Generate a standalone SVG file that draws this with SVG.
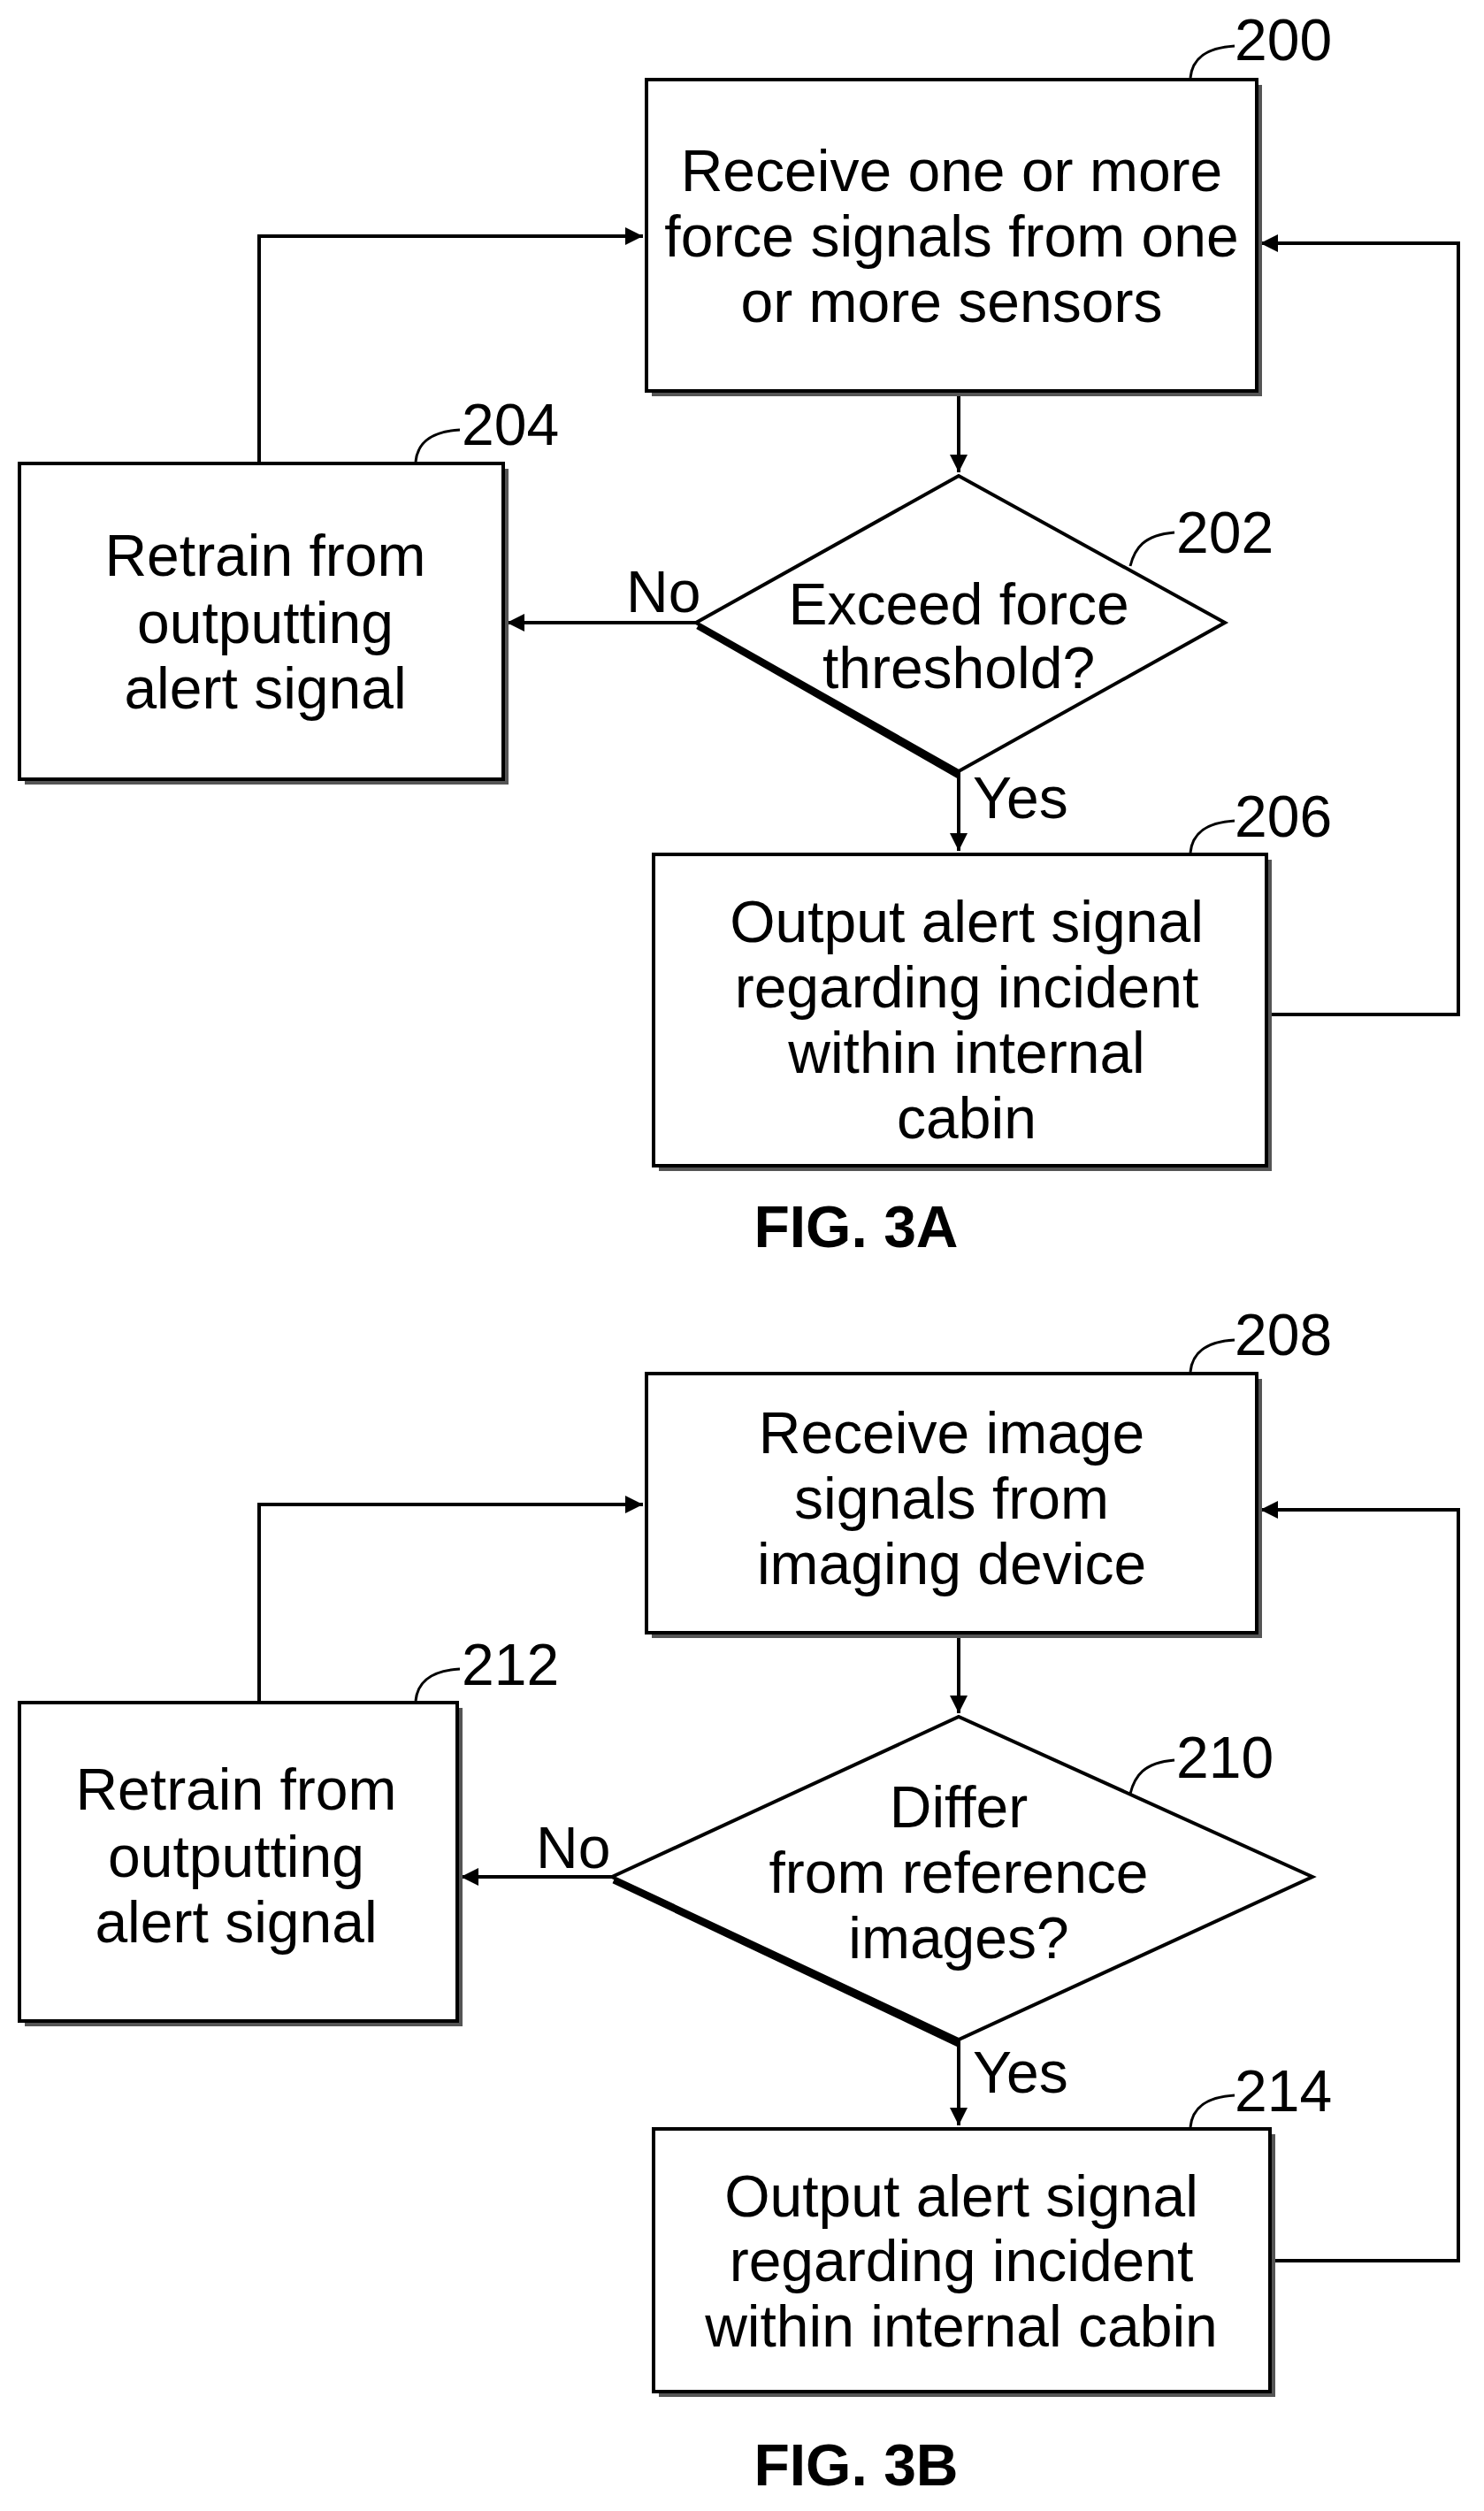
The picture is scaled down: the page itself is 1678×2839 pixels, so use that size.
<svg xmlns="http://www.w3.org/2000/svg" width="1678" height="2839" viewBox="0 0 1678 2839">
<style>
.b{fill:#fff;stroke:#000;stroke-width:4}
.s{fill:#555}
.t{font-family:"Liberation Sans",Arial,sans-serif;font-size:66px;text-anchor:middle;fill:#000}
.n{font-family:"Liberation Sans",Arial,sans-serif;font-size:66px;fill:#000}
.f{font-family:"Liberation Sans",Arial,sans-serif;font-size:66px;font-weight:bold;text-anchor:middle}
.c{fill:none;stroke:#000;stroke-width:4}
.h{fill:none;stroke:#000;stroke-width:3}
</style>
<defs>
<marker id="m" viewBox="0 0 10 10" refX="10" refY="5" markerWidth="24" markerHeight="20" orient="auto" markerUnits="userSpaceOnUse"><path d="M0,0L10,5L0,10z"/></marker></defs>
<g id="connectors">
<path class="c" d="M1084,442V534" marker-end="url(#m)"/>
<path class="c" d="M787,704H573" marker-end="url(#m)"/>
<path class="c" d="M1084,872V962" marker-end="url(#m)"/>
<path class="c" d="M293,524V267H727" marker-end="url(#m)"/>
<path class="c" d="M1436,1147H1649V275H1425" marker-end="url(#m)"/>
<path class="c" d="M1084,1846V1937" marker-end="url(#m)"/>
<path class="c" d="M692,2122H521" marker-end="url(#m)"/>
<path class="c" d="M1084,2306V2403" marker-end="url(#m)"/>
<path class="c" d="M293,1925V1701H727" marker-end="url(#m)"/>
<path class="c" d="M1440,2556H1649V1707H1425" marker-end="url(#m)"/>
<text class="n" x="708" y="692">No</text>
<text class="n" x="1100" y="925">Yes</text>
<text class="n" x="606" y="2112">No</text>
<text class="n" x="1100" y="2366">Yes</text>
</g>
<g id="n200"><rect class="s" x="737" y="96" width="690" height="352"/><rect class="b" x="731" y="90" width="690" height="352"/>
<text class="t" x="1076" y="216">Receive one or more</text><text class="t" x="1076" y="290">force signals from one</text><text class="t" x="1076" y="364">or more sensors</text>
<path class="h" d="M1346,88c2,-20 15,-34 50,-36"/><text class="n" x="1396" y="68">200</text></g>
<g id="n202"><path d="M787,704L1084,538L1385,704L1084,872Z" fill="#fff" stroke="#000" stroke-width="4"/><path d="M789,708L1084,877" stroke="#000" stroke-width="7"/>
<text class="t" x="1084" y="706">Exceed force</text><text class="t" x="1084" y="778">threshold?</text>
<path class="h" d="M1278,640c5,-20 15,-35 50,-38"/><text class="n" x="1330" y="625">202</text></g>
<g id="n204"><rect class="s" x="28" y="530" width="547" height="357"/><rect class="b" x="22" y="524" width="547" height="357"/>
<text class="t" x="300" y="651">Retrain from</text><text class="t" x="300" y="727">outputting</text><text class="t" x="300" y="801">alert signal</text>
<path class="h" d="M470,522c2,-20 15,-34 50,-36"/><text class="n" x="522" y="503">204</text></g>
<g id="n206"><rect class="s" x="745" y="972" width="693" height="352"/><rect class="b" x="739" y="966" width="693" height="352"/>
<text class="t" x="1093" y="1065">Output alert signal</text><text class="t" x="1093" y="1139">regarding incident</text><text class="t" x="1093" y="1213">within internal</text><text class="t" x="1093" y="1287">cabin</text>
<path class="h" d="M1346,964c2,-20 15,-34 50,-36"/><text class="n" x="1396" y="946">206</text></g>
<text class="f" x="968" y="1410">FIG. 3A</text>
<g id="n208"><rect class="s" x="737" y="1559" width="690" height="293"/><rect class="b" x="731" y="1553" width="690" height="293"/>
<text class="t" x="1076" y="1643">Receive image</text><text class="t" x="1076" y="1717">signals from</text><text class="t" x="1076" y="1791">imaging device</text>
<path class="h" d="M1346,1551c2,-20 15,-34 50,-36"/><text class="n" x="1396" y="1532">208</text></g>
<g id="n210"><path d="M692,2122L1084,1941L1484,2122L1084,2306Z" fill="#fff" stroke="#000" stroke-width="4"/><path d="M694,2126L1084,2311" stroke="#000" stroke-width="7"/>
<text class="t" x="1084" y="2066">Differ</text><text class="t" x="1084" y="2140">from reference</text><text class="t" x="1084" y="2214">images?</text>
<path class="h" d="M1278,2028c5,-20 15,-35 50,-38"/><text class="n" x="1330" y="2010">210</text></g>
<g id="n212"><rect class="s" x="28" y="1931" width="495" height="360"/><rect class="b" x="22" y="1925" width="495" height="360"/>
<text class="t" x="267" y="2046">Retrain from</text><text class="t" x="267" y="2122">outputting</text><text class="t" x="267" y="2196">alert signal</text>
<path class="h" d="M470,1923c2,-20 15,-34 50,-36"/><text class="n" x="522" y="1905">212</text></g>
<g id="n214"><rect class="s" x="745" y="2413" width="697" height="297"/><rect class="b" x="739" y="2407" width="697" height="297"/>
<text class="t" x="1087" y="2506">Output alert signal</text><text class="t" x="1087" y="2579">regarding incident</text><text class="t" x="1087" y="2653">within internal cabin</text>
<path class="h" d="M1346,2405c2,-20 15,-34 50,-36"/><text class="n" x="1396" y="2387">214</text></g>
<text class="f" x="968" y="2810">FIG. 3B</text>
</svg>
